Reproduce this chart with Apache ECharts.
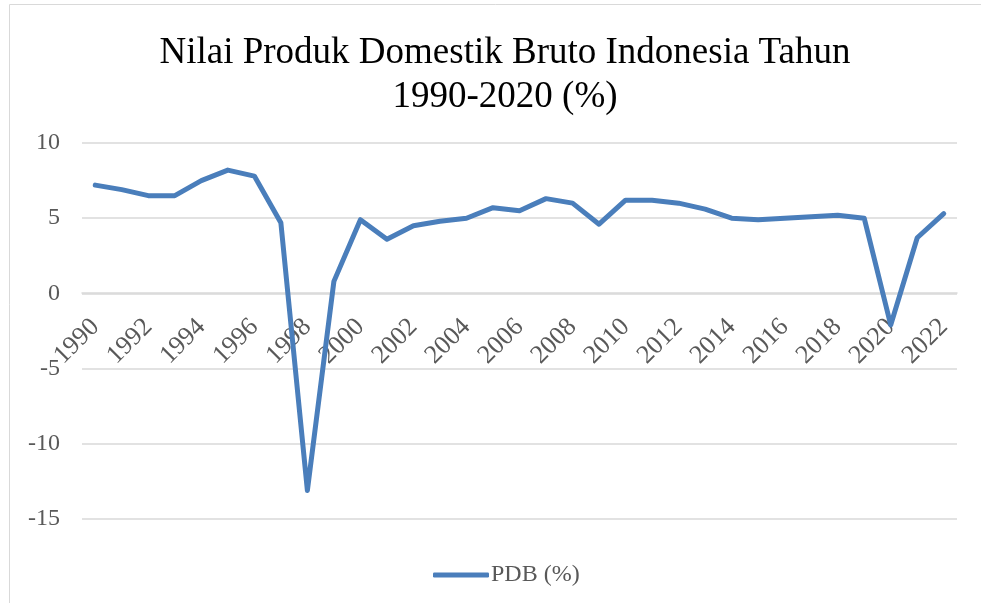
<!DOCTYPE html>
<html>
<head>
<meta charset="utf-8">
<script src="https://cdn.jsdelivr.net/npm/echarts@6/dist/echarts.min.js"></script>
<style>
  html, body { margin: 0; padding: 0; background: #fff; }
  #chart { width: 981px; height: 603px; }
</style>
</head>
<body>
<div id="chart"></div>
<script>
// years 1990..2022
var years = ['1990','1991','1992','1993','1994','1995','1996','1997','1998','1999',
             '2000','2001','2002','2003','2004','2005','2006','2007','2008','2009',
             '2010','2011','2012','2013','2014','2015','2016','2017','2018','2019',
             '2020','2021','2022'];
// PDB growth (%)
var pdb = [7.2, 6.9, 6.5, 6.5, 7.5, 8.2, 7.8, 4.7, -13.1, 0.8,
           4.9, 3.6, 4.5, 4.8, 5.0, 5.7, 5.5, 6.3, 6.0, 4.6,
           6.2, 6.2, 6.0, 5.6, 5.0, 4.9, 5.0, 5.1, 5.2, 5.0,
           -2.1, 3.7, 5.3];

var chart = echarts.init(document.getElementById('chart'));
chart.setOption({
    animation: false,
    title: {
        text: 'Nilai Produk Domestik Bruto Indonesia Tahun\n1990-2020 (%)',
        left: 500,
        textAlign: 'center',
        top: 26,
        textStyle: {
            fontFamily: 'Liberation Serif',
            fontWeight: 'normal',
            fontSize: 37,
            lineHeight: 44,
            color: '#000'
        }
    },
    graphic: [{
        type: 'rect',
        shape: { x: 9.5, y: 4.5, width: 1000, height: 1000 },
        style: { fill: 'none', stroke: '#d9d9d9', lineWidth: 1 },
        silent: true
    }],
    legend: {
        left: 428,
        top: 558,
        icon: 'roundRect',
        itemWidth: 56,
        itemHeight: 5,
        itemGap: 4,
        textStyle: {
            fontFamily: 'Liberation Serif',
            fontSize: 24,
            color: '#595959',
            padding: [0, 0, 0, -3]
        },
        data: ['PDB (%)']
    },
    grid: {
        left: 82,
        right: 24,
        top: 143,
        bottom: 84,
        containLabel: false
    },
    xAxis: {
        type: 'category',
        data: years,
        boundaryGap: true,
        // sits on the zero line
        offset: -226,
        axisLine: { onZero: false, lineStyle: { color: '#d9d9d9', width: 1.5 } },
        axisTick: { show: false },
        axisLabel: {
            interval: 1,
            rotate: 45,
            margin: 30,
            fontFamily: 'Liberation Serif',
            fontSize: 26,
            color: '#595959'
        },
        splitLine: { show: false }
    },
    yAxis: {
        type: 'value',
        min: -15,
        max: 10,
        interval: 5,
        axisLine: { show: false },
        axisTick: { show: false },
        axisLabel: {
            margin: 22,
            fontFamily: 'Liberation Serif',
            fontSize: 24,
            color: '#595959'
        },
        splitLine: { lineStyle: { color: '#d9d9d9', width: 1.5 } }
    },
    series: [{
        name: 'PDB (%)',
        type: 'line',
        data: pdb,
        symbol: 'none',
        lineStyle: { color: '#4A7EBB', width: 5, cap: 'round', join: 'round' },
        itemStyle: { color: '#4A7EBB' }
    }]
});
</script>
</body>
</html>
